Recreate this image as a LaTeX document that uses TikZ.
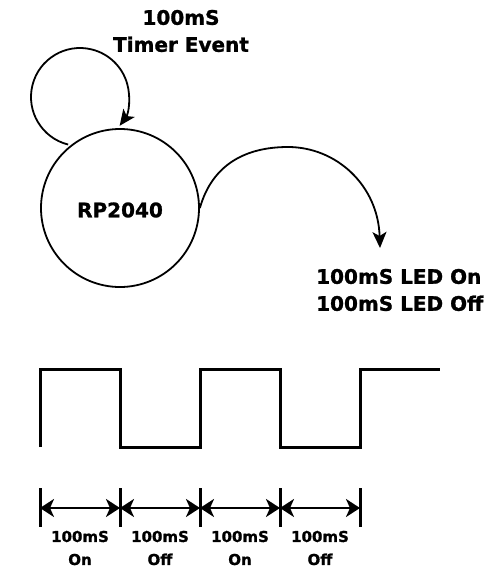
\documentclass[tikz,border=0pt]{standalone}
\usepackage{fontspec}
\setmainfont{DejaVu Sans}[BoldFeatures={FakeBold=1.2}]
\usetikzlibrary{arrows.meta,calc}
\begin{document}
\begin{tikzpicture}[x=1pt,y=-1pt,
  big/.style={font=\bfseries\fontsize{20}{27}\selectfont,inner sep=0pt,align=center},
  small/.style={font=\bfseries\fontsize{15}{23}\selectfont,inner sep=0pt,align=center},
  curve/.style={line width=1.8pt},
  wave/.style={line width=3pt,line join=miter},
  tick/.style={line width=3pt},
  dim/.style={line width=2.4pt,{Stealth[length=14pt,width=18pt,inset=4pt]}-{Stealth[length=14pt,width=18pt,inset=4pt]}},
  tip/.style={-{Stealth[length=16pt,width=14pt,inset=4pt]}}]
\useasboundingbox (0,0) rectangle (487,570);
% nodes
\node[circle,draw,curve,minimum size=158pt,inner sep=0pt] (rp) at (120,208) {};
\node[big] (rplabel) at (120,210) {RP2040};
\node[big] (timer) at (181,31) {100mS\\Timer Event};
\node[big,anchor=west,align=left] (led) at (316,290) {100mS LED On\\100mS LED Off};
\coordinate (loopc) at (80,97);
\coordinate (ledtip) at (380,248);
% self loop
\draw[curve,tip] ($(loopc)+(104:49)$) arc[start angle=104,end angle=396,radius=49];
% arc to LED
\draw[curve,tip] (rp.east) .. controls (212,165) and (245,147) .. (288,147)
  .. controls (336,147) and (378,185) .. (ledtip);
% square wave
\draw[wave] (40,447) -- (40,369) -- (120,369) -- (120,447) -- (200,447) -- (200,369)
  -- (280,369) -- (280,447) -- (360,447) -- (360,369) -- (440,369);
% timing ticks
\foreach \i/\x in {0/40,1/120,2/200,3/280,4/360}{
  \coordinate (t\i) at (\x,508);
  \draw[tick] (\x,488) -- (\x,527);
}
\draw[dim] (t0) -- (t1);
\draw[dim] (t1) -- (t2);
\draw[dim] (t2) -- (t3);
\draw[dim] (t3) -- (t4);
\node[small] (l1) at (80,548) {100mS\\On};
\node[small] (l2) at (160,548) {100mS\\Off};
\node[small] (l3) at (240,548) {100mS\\On};
\node[small] (l4) at (320,548) {100mS\\Off};
\end{tikzpicture}
\end{document}
